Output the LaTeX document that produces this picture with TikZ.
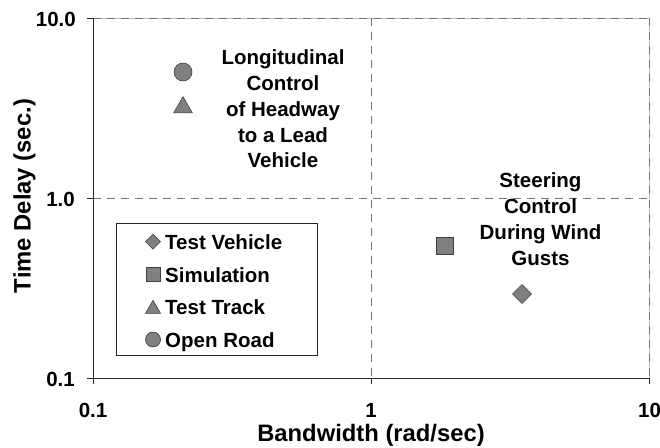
\documentclass[tikz,border=0pt]{standalone}
\usepackage{fontspec}
\setmainfont{Liberation Sans}
\usetikzlibrary{shapes.geometric}
\begin{document}
\begin{tikzpicture}[x=1pt,y=-1pt,
  txt/.style={font=\fontsize{20.5}{24}\selectfont\bfseries, inner sep=0pt, anchor=base},
  ttl/.style={font=\fontsize{23.8}{28}\selectfont\bfseries, inner sep=0pt, anchor=base},
  mk/.style={draw=black!75, fill=black!50, line width=0.6pt, inner sep=0pt, outer sep=0pt},
  circmk/.style={mk, circle, minimum size=#1},
  trimk/.style={mk, regular polygon, regular polygon sides=3, minimum size=#1},
  sqmk/.style={mk, rectangle, minimum size=#1},
  dmmk/.style={mk, diamond, minimum size=#1},
  gridln/.style={draw=black!55, dash pattern=on 8pt off 6pt, line width=0.7pt},
  axisln/.style={draw=black!85, line width=0.8pt},
  frameln/.style={draw=black!25, line width=0.8pt}
]
\useasboundingbox (0,0) rectangle (660,447);
% plot corners
\coordinate (o) at (93,378);
\coordinate (tl) at (93,18);
\coordinate (tr) at (649,18);
\coordinate (br) at (649,378);
\coordinate (xm) at (371,378);
\coordinate (xmt) at (371,18);
\coordinate (ym) at (93,198);
\coordinate (ymr) at (649,198);
% frame and grid
\draw[frameln] (tl) -- (tr) -- (br);
\draw[gridln] (tl) -- (tr);
\draw[gridln] (tr) -- (br);
\draw[gridln] (xmt) -- (xm);
\draw[gridln] (ym) -- (ymr);
% axes
\draw[axisln] (tl) -- (o) -- (br);
\draw[axisln] (o) -- ++(-6,0) (ym) -- ++(-6,0) (tl) -- ++(-6,0);
\draw[axisln] (o) -- ++(0,6) (xm) -- ++(0,6) (br) -- ++(0,6);
% tick labels
\node[txt, anchor=base east] (y10) at (76,26) {10.0};
\node[txt, anchor=base east] (y1) at (75,206.7) {1.0};
\node[txt, anchor=base east] (y01) at (75,386) {0.1};
\node[txt] (x01) at (93,417) {0.1};
\node[txt] (x1) at (371,417) {1};
\node[txt] (x10) at (649.5,417) {10};
% titles
\node[ttl] (xt) at (371,441) {Bandwidth (rad/sec)};
\node[ttl, rotate=90] (yt) at (30.5,196) {Time Delay (sec.)};
% data
\node[circmk=18] (p1) at (183,72) {};
\node[trimk=21.6] (p2) at (183,107.5) {};
\node[sqmk=17] (p3) at (445,246) {};
\node[dmmk=19] (p4) at (522,294) {};
% annotations
\node[txt] (a1) at (283,64.3) {Longitudinal};
\node[txt] (a2) at (283,90) {Control};
\node[txt] (a3) at (283,116) {of Headway};
\node[txt] (a4) at (283,142) {to a Lead};
\node[txt] (a5) at (283,167.7) {Vehicle};
\node[txt] (b1) at (540.5,187.3) {Steering};
\node[txt] (b2) at (540.5,213) {Control};
\node[txt] (b3) at (540.5,239) {During Wind};
\node[txt] (b4) at (540.5,265) {Gusts};
% legend
\node[draw=black!85, line width=0.8pt, fill=white, minimum width=201pt, minimum height=132pt, anchor=north west, inner sep=0pt] (leg) at (116,223) {};
\node[dmmk=15] (l1) at (153,241.7) {};
\node[sqmk=14] (l2) at (153,274.5) {};
\node[trimk=17.3] (l3) at (153,309) {};
\node[circmk=15] (l4) at (153,339.5) {};
\node[txt, anchor=base west] (t1) at (165,249) {Test Vehicle};
\node[txt, anchor=base west] (t2) at (165,282) {Simulation};
\node[txt, anchor=base west] (t3) at (165,314) {Test Track};
\node[txt, anchor=base west] (t4) at (165,347) {Open Road};
\end{tikzpicture}
\end{document}
